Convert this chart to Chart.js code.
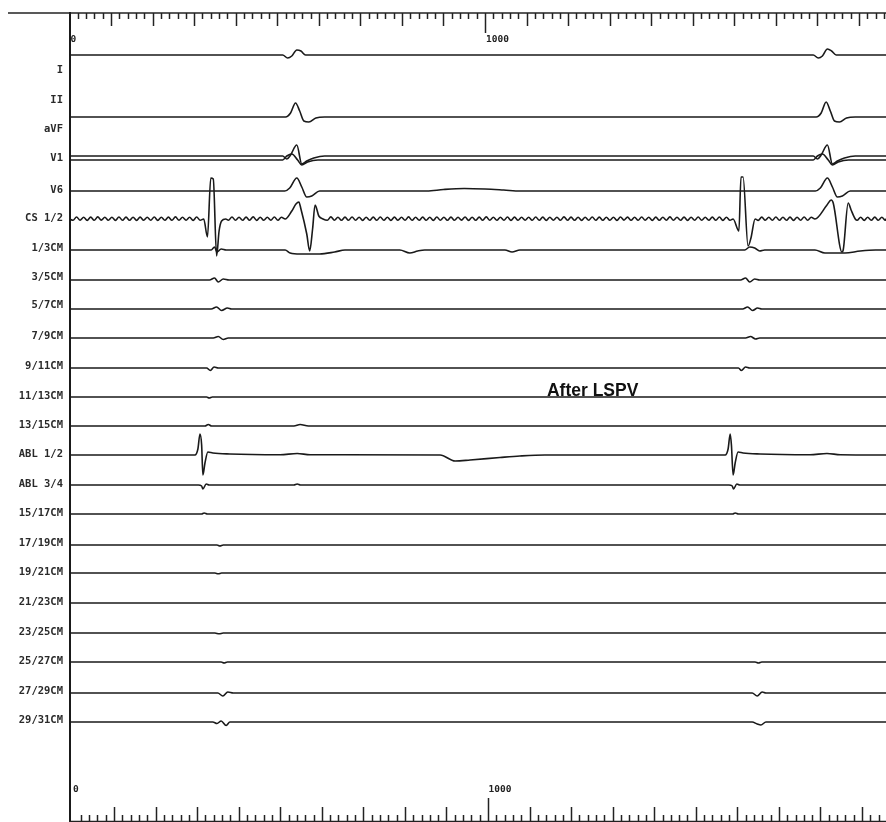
<!DOCTYPE html>
<html><head><meta charset="utf-8">
<script src="https://cdn.jsdelivr.net/npm/chart.js@4/dist/chart.umd.min.js"></script>
<style>html,body{margin:0;padding:0;background:#fff;overflow:hidden}#wrap{position:relative;width:886px;height:822px}</style>
</head><body><div id="wrap"><canvas id="c" width="886" height="822"></canvas></div>
<script>
// ---------- DATA (time in ms, deflection in mm-units, up = positive) ----------
const xMax = 1965;
const channelNames = ['I','II','aVF','V1','V6','CS 1/2','1/3CM','3/5CM','5/7CM','7/9CM','9/11CM','11/13CM','13/15CM','ABL 1/2','ABL 3/4','15/17CM','17/19CM','19/21CM','21/23CM','23/25CM','25/27CM','27/29CM','29/31CM'];
const labelRows = [70,100,129,158,190,218,248,277,305,336,366,396,425,454,484,513,543,572,602,632,661,691,720];

const traceBase = {I:55, II:117, V1a:156, V1b:160, V6:191, CS12:219, cm13:250, cm35:280, cm57:309, cm79:338, cm911:368, cm1113:397, cm1315:426, abl12:455, abl34:485, cm1517:514, cm1719:545, cm1921:573, cm2123:603, cm2325:633, cm2527:662, cm2729:693, cm2931:722};

const leadI  = [[513,0],[525,-3],[535,-1],[547,5],[557,4],[568,0],[1790,0],[1802,-3],[1812,-1],[1824,6],[1834,4],[1845,0]];
const leadII = [[520,0],[532,4],[544,14],[554,6],[564,-4],[576,-5],[593,-1],[614,0],[1797,0],[1809,4],[1821,15],[1831,6],[1841,-4],[1853,-5],[1870,-1],[1891,0]];
const leadV1a = [[513,0],[523,-3],[532,1],[547,11],[559,-8],[571,-5],[588,-2],[614,0],[1790,0],[1800,-3],[1809,1],[1824,11],[1836,-8],[1848,-5],[1865,-2],[1891,0]];
const leadV1b = [[513,0],[523,4],[535,6],[549,0],[559,-5],[573,-2],[598,0],[1790,0],[1800,4],[1812,6],[1826,0],[1836,-5],[1850,-2],[1875,0]];
const leadV6 = [[518,0],[530,3],[547,13],[559,4],[571,-6],[583,-5],[602,0],[860,0],[900,1.5],[950,2.5],[1000,2],[1045,1],[1085,0],[1795,0],[1807,3],[1824,13],[1836,4],[1848,-6],[1860,-5],[1879,0]];

const cs12Beat1A = [[323,0],[332,-18],[340,41],[346,40],[354,-37],[360,-12],[366,-2],[376,0]];
const cs12Beat1B = [[519,0],[535,8],[545,15],[552,17],[557,10],[571,-15],[578,-32],[585,-10],[591,14],[600,3],[610,0]];
const cs12Beat2A = [[1597,0],[1611,-12],[1616,42],[1621,42],[1633,-27],[1640,-19],[1650,0]];
const cs12Beat2B = [[1794,0],[1823,14],[1833,19],[1838,16],[1859,-33],[1862,-31],[1874,16],[1881,9],[1891,0]];
const rippleStep = 8.5;
const cs12Ripple = [
 1.8,-1.3,2.0,-1.2,1.7,-1.4,1.9,-1.3,2.1,-1.1,1.8,-1.3,1.7,-1.4,2.0,-1.2,1.9,-1.3,1.8,-1.4,
 1.9,-1.2,1.7,-1.3,2.0,-1.4,1.8,-1.2,1.9,-1.3,2.1,-1.3,1.7,-1.2,1.8,-1.4,2.0,-1.3,1.9,-1.1,
 1.7,-1.3,1.9,-1.4,1.8,-1.2,2.0,-1.3,1.7,-1.3,1.9,-1.2,2.1,-1.4,1.8,-1.3,1.7,-1.2,2.0,-1.3,
 1.8,-1.4,1.9,-1.2,1.7,-1.3,2.0,-1.3,1.8,-1.1,1.9,-1.4,1.7,-1.3,2.1,-1.2,1.8,-1.3,1.9,-1.3,
 2.0,-1.2,1.8,-1.4,1.7,-1.3,1.9,-1.2,2.0,-1.3,1.8,-1.4,1.9,-1.2,1.7,-1.3,2.1,-1.3,1.8,-1.2,
 1.9,-1.3,1.7,-1.4,2.0,-1.2,1.8,-1.3,1.9,-1.3,1.7,-1.1,2.0,-1.4,1.8,-1.3,1.9,-1.2,2.1,-1.3,
 1.7,-1.3,1.8,-1.2,2.0,-1.4,1.9,-1.3,1.7,-1.2,1.8,-1.3,2.0,-1.3,1.9,-1.4,1.7,-1.2,1.8,-1.3,
 2.1,-1.2,1.9,-1.3,1.8,-1.4,1.7,-1.3,2.0,-1.2,1.9,-1.3,1.8,-1.3,1.7,-1.4,2.0,-1.1,1.9,-1.3,
 1.8,-1.3,2.0,-1.2,1.7,-1.4,1.9,-1.3,1.8,-1.2,2.1,-1.3,1.7,-1.3,1.9,-1.4,1.8,-1.2,2.0,-1.3,
 1.7,-1.2,1.9,-1.3,2.0,-1.4,1.8,-1.3,1.9,-1.2,1.7,-1.3,2.1,-1.3,1.8,-1.4,1.9,-1.2,1.7,-1.3,
 2.0,-1.3,1.8,-1.2,1.9,-1.4,1.7,-1.3,2.0,-1.2,1.8,-1.3,1.9,-1.3,2.1,-1.1,1.8,-1.4,1.7,-1.3,
 1.9,-1.2,2.0,-1.3,1.8,-1.4,1.7,-1.3,1.9,-1.2,1.8,-1.3,2.0,-1.3,1.7,-1.2,1.9,-1.4,1.8,-1.3
];

const cm13 = [[341,0],[349,3],[355,-2],[365,1],[377,0],[519,0],[531,-3],[555,-4],[602,-4],[638,-2],[663,0],[795,0],[819,-3],[838,-1],[855,0],[1048,0],[1065,-2],[1084,0],[1625,0],[1637,3],[1649,2],[1661,-1],[1673,0],[1794,0],[1818,-3],[1866,-3],[1903,-1],[1940,0]];
const cm35 = [[337,0],[349,2],[358,-2],[370,1],[384,0],[1615,0],[1627,2],[1637,-2],[1649,1],[1661,0]];
const cm57 = [[341,0],[354,2],[366,-1.5],[380,1],[390,0],[1620,0],[1632,2],[1644,-1.5],[1656,1],[1666,0]];
const cm79 = [[346,0],[358,1.5],[370,-1.5],[382,0],[1627,0],[1639,1.5],[1651,-1],[1661,0]];
const cm911 = [[330,0],[339,-2.5],[348,1],[358,0],[1610,0],[1617,-2.5],[1627,1],[1637,0]];
const cm1113 = [[330,0],[336,-1],[344,0]];
const cm1315 = [[326,0],[334,1.5],[342,0],[540,0],[555,1.5],[575,0]];
const abl12 = [[302,0],[309,6],[314,21],[318,10],[321,-20],[326,-8],[333,3],[345,2],[386,1],[507,0.3],[548,1.5],[579,0.3],[892,0],[928,-6],[964,-5],[1036,-2.5],[1084,-1],[1144,0],[1578,0],[1585,6],[1590,21],[1593,10],[1597,-20],[1602,-8],[1609,3],[1621,2],[1662,1],[1782,0.3],[1823,1.5],[1855,0.3]];
const abl34 = [[310,0],[318,-1],[321,-4],[329,1],[336,0],[540,0],[548,1],[556,0],[1587,0],[1595,-1],[1598,-4],[1606,1],[1613,0]];
const cm1517 = [[318,0],[324,1],[332,0],[1596,0],[1602,1],[1610,0]];
const cm1719 = [[355,0],[362,-1],[370,0]];
const cm1921 = [[350,0],[358,-0.8],[366,0]];
const cm2123 = [];
const cm2325 = [[350,0],[360,-0.8],[370,0]];
const cm2527 = [[365,0],[372,-1],[380,0],[1650,0],[1658,-1],[1666,0]];
const cm2729 = [[357,0],[369,-3],[381,1],[394,0],[1643,0],[1655,-3],[1667,1],[1676,0]];
const cm2931 = [[345,0],[355,-1.5],[365,1],[377,-3.5],[386,0],[1643,0],[1655,-2],[1664,-3],[1676,0]];

const rulerMinor = 20, rulerMajor = 100;
const rulerLabels = [0, 1000];
const noteText = 'After LSPV';
const noteAt = [1149, 396];

// ---------- BUILD ----------
function build(base, kp){
  const pts = [{x:0,y:base}];
  kp.forEach(p=>pts.push({x:p[0], y:base - p[1]}));
  pts.push({x:xMax,y:base});
  return pts;
}
const csGroups = [cs12Beat1A, cs12Beat1B, cs12Beat2A, cs12Beat2B];
const csWin = csGroups.map(g=>[g[0][0], g[g.length-1][0]]);
const csKp = [];
cs12Ripple.forEach((a,i)=>{
  const t = i*rippleStep;
  if (t<=0 || t>=xMax) return;
  if (csWin.some(w=>t>=w[0]-2 && t<=w[1]+2)) return;
  csKp.push([t,a]);
});
csGroups.forEach(g=>g.forEach(p=>csKp.push(p)));
csKp.sort((a,b)=>a[0]-b[0]);

const traces = [
 ['I',leadI],['II',leadII],['V1a',leadV1a],['V1b',leadV1b],['V6',leadV6],['CS12',csKp],
 ['cm13',cm13],['cm35',cm35],['cm57',cm57],['cm79',cm79],['cm911',cm911],['cm1113',cm1113],['cm1315',cm1315],
 ['abl12',abl12],['abl34',abl34],['cm1517',cm1517],['cm1719',cm1719],['cm1921',cm1921],['cm2123',cm2123],
 ['cm2325',cm2325],['cm2527',cm2527],['cm2729',cm2729],['cm2931',cm2931]
];
const datasets = traces.map(([k,kp])=>({
  label:k, data:build(traceBase[k], kp),
  borderColor:'#1a1a1a', borderWidth:1.6, pointRadius:0, fill:false,
  cubicInterpolationMode:'monotone', borderJoinStyle:'round', borderCapStyle:'round'
}));

const rulerPlugin = {
  id:'rulers',
  afterDraw(chart){
    const ctx = chart.ctx, x = chart.scales.x, y = chart.scales.y;
    ctx.save();
    ctx.strokeStyle = '#222';
    ctx.lineWidth = 1.6;
    ctx.beginPath(); ctx.moveTo(8,13); ctx.lineTo(886,13); ctx.stroke();
    ctx.lineWidth = 1.5;
    for (let t=rulerMinor; t<=xMax; t+=rulerMinor){
      const px = Math.round(x.getPixelForValue(t))+0.5;
      const len = t===1000?20:(t%rulerMajor===0?13:6);
      ctx.beginPath(); ctx.moveTo(px,13); ctx.lineTo(px,13+len); ctx.stroke();
    }
    // bottom ruler
    ctx.beginPath(); ctx.moveTo(69,821.5); ctx.lineTo(886,821.5); ctx.stroke();
    for (let t=rulerMinor; t<=xMax; t+=rulerMinor){
      const px = Math.round(x.getPixelForValue(t))+3.5;
      const len = t===1000?24:(t%rulerMajor===0?15:7);
      ctx.beginPath(); ctx.moveTo(px,822); ctx.lineTo(px,822-len); ctx.stroke();
    }
    ctx.fillStyle = '#222';
    ctx.font = 'bold 9.5px "DejaVu Sans Mono", monospace';
    ctx.textBaseline = 'middle'; ctx.textAlign = 'left';
    rulerLabels.forEach(v=>{
      const px = x.getPixelForValue(v);
      ctx.fillText(String(v), px+1, 40);
      ctx.fillText(String(v), px+3.5, 789.5);
    });
    ctx.font = 'bold 17.5px "Liberation Sans", Arial, sans-serif';
    ctx.fillStyle = '#111';
    ctx.textBaseline = 'alphabetic';
    ctx.fillText(noteText, x.getPixelForValue(noteAt[0]), y.getPixelForValue(noteAt[1]));
    ctx.restore();
  }
};

new Chart(document.getElementById('c'), {
  type:'line',
  data:{datasets},
  options:{
    responsive:false, animation:false, events:[],
    layout:{padding:{top:13,left:0,right:0,bottom:0}},
    plugins:{legend:{display:false}, tooltip:{enabled:false}, title:{display:false}},
    scales:{
      x:{type:'linear', min:0, max:xMax, display:false},
      y:{type:'linear', reverse:true, min:13, max:822,
         afterFit(s){ s.width = 69.5; s.paddingTop = 0; s.paddingBottom = 0; },
         afterBuildTicks(s){ s.ticks = labelRows.map(v=>({value:v})); },
         ticks:{autoSkip:false, padding:6.5, color:'#2a2a2a',
                font:{family:'"DejaVu Sans Mono", monospace', size:10.5, weight:'bold'},
                callback:(v,i)=>channelNames[i]},
         grid:{display:false, drawTicks:false},
         border:{display:true, color:'#1a1a1a', width:2}
      }
    }
  },
  plugins:[rulerPlugin]
});
</script></body></html>
